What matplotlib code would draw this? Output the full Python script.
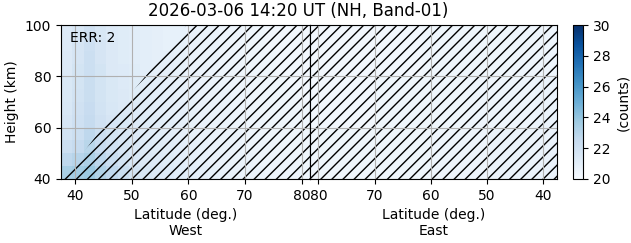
import matplotlib
matplotlib.use("Agg")
import matplotlib.pyplot as plt
import numpy as np

title = "2026-03-06 14:20 UT (NH, Band-01)"
err_text = "ERR: 2"

# grid edges (deg. latitude / km height)
lat_edges = np.arange(37.5, 81.6, 2.0)
height_edges = np.arange(40, 101, 5)

# West panel counts, rows bottom (40-45 km) to top (95-100 km)
west_counts = [
    [23.4, 23.6, 23.8, 23.2, 22.7, 22.3, 21.9, 21.6, 21.4, 21.3, 21.1, 21.0, 20.9, 20.8, 20.7, 20.7, 20.6, 20.6, 20.5, 20.5, 20.5, 20.5],
    [22.7, 23.0, 23.3, 22.8, 22.3, 21.9, 21.6, 21.4, 21.3, 21.2, 21.0, 20.9, 20.8, 20.7, 20.7, 20.6, 20.6, 20.5, 20.5, 20.5, 20.5, 20.4],
    [22.2, 22.5, 22.9, 22.4, 22.0, 21.7, 21.5, 21.3, 21.2, 21.1, 21.0, 20.9, 20.8, 20.7, 20.6, 20.6, 20.5, 20.5, 20.5, 20.4, 20.4, 20.4],
    [21.9, 22.2, 22.7, 22.2, 21.8, 21.6, 21.4, 21.2, 21.1, 21.0, 20.9, 20.8, 20.7, 20.7, 20.6, 20.6, 20.5, 20.5, 20.4, 20.4, 20.4, 20.4],
    [21.7, 22.1, 22.5, 22.0, 21.7, 21.5, 21.3, 21.2, 21.1, 21.0, 20.9, 20.8, 20.7, 20.6, 20.6, 20.5, 20.5, 20.5, 20.4, 20.4, 20.4, 20.4],
    [21.6, 22.0, 22.4, 21.9, 21.6, 21.4, 21.3, 21.1, 21.0, 20.9, 20.9, 20.8, 20.7, 20.6, 20.6, 20.5, 20.5, 20.4, 20.4, 20.4, 20.4, 20.4],
    [21.5, 21.9, 22.3, 21.8, 21.5, 21.4, 21.2, 21.1, 21.0, 20.9, 20.8, 20.8, 20.7, 20.6, 20.6, 20.5, 20.5, 20.4, 20.4, 20.4, 20.4, 20.3],
    [21.5, 21.8, 22.3, 21.8, 21.5, 21.3, 21.2, 21.1, 21.0, 20.9, 20.8, 20.7, 20.7, 20.6, 20.5, 20.5, 20.5, 20.4, 20.4, 20.4, 20.3, 20.3],
    [21.4, 21.8, 22.2, 21.8, 21.4, 21.3, 21.2, 21.0, 20.9, 20.9, 20.8, 20.7, 20.7, 20.6, 20.5, 20.5, 20.4, 20.4, 20.4, 20.3, 20.3, 20.3],
    [21.4, 21.7, 22.2, 21.7, 21.4, 21.2, 21.1, 21.0, 20.9, 20.9, 20.8, 20.7, 20.6, 20.6, 20.5, 20.5, 20.4, 20.4, 20.4, 20.3, 20.3, 20.3],
    [21.3, 21.7, 22.1, 21.7, 21.4, 21.2, 21.1, 21.0, 20.9, 20.8, 20.8, 20.7, 20.6, 20.6, 20.5, 20.5, 20.4, 20.4, 20.3, 20.3, 20.3, 20.3],
    [21.3, 21.6, 22.0, 21.6, 21.3, 21.2, 21.1, 21.0, 20.9, 20.8, 20.8, 20.7, 20.6, 20.6, 20.5, 20.5, 20.4, 20.4, 20.3, 20.3, 20.3, 20.3],
]

# East panel counts (coarser), rows bottom to top, columns 37.5 -> 81.5
east_lat_edges = np.arange(37.5, 81.6, 4.0)
east_height_edges = [40, 60, 80, 100]
east_counts = [
    [20.7, 20.6, 20.6, 20.5, 20.5, 20.5, 20.4, 20.4, 20.4, 20.4, 20.4],
    [20.6, 20.5, 20.5, 20.5, 20.4, 20.4, 20.4, 20.4, 20.3, 20.3, 20.3],
    [20.5, 20.5, 20.4, 20.4, 20.4, 20.4, 20.3, 20.3, 20.3, 20.3, 20.3],
]

# edge of the valid data region in the West panel (hatched beyond)
edge_heights = [40, 60, 80, 100]
edge_lats = [37.9, 44.8, 52.4, 59.8]

lat_min, lat_max = 37.5, 81.5
vmin, vmax = 20, 30

fig = plt.figure(figsize=(6.31, 2.43), dpi=100)
ax_w = fig.add_axes([0.0967, 0.2634, 0.3946, 0.6337])
ax_e = fig.add_axes([0.4913, 0.2634, 0.3914, 0.6337], sharey=ax_w)
cax = fig.add_axes([0.9073, 0.2634, 0.0174, 0.6337])

mesh = ax_w.pcolormesh(lat_edges, height_edges, np.array(west_counts),
                       cmap="Blues", vmin=vmin, vmax=vmax, shading="flat")
ax_e.pcolormesh(east_lat_edges, east_height_edges, np.array(east_counts),
                cmap="Blues", vmin=vmin, vmax=vmax, shading="flat")

# hatch where there is no valid data
ax_w.fill_betweenx(edge_heights, edge_lats, lat_max, facecolor="none",
                   edgecolor="k", hatch="///", linewidth=0)
ax_e.fill_betweenx([40, 100], lat_min, lat_max, facecolor="none",
                   edgecolor="k", hatch="///", linewidth=0)

ax_w.set_xlim(lat_min, lat_max)
ax_e.set_xlim(lat_max, lat_min)
ax_w.set_ylim(40, 100)
ax_w.set_yticks([40, 60, 80, 100])
for ax in (ax_w, ax_e):
    ax.set_xticks([40, 50, 60, 70, 80])
    ax.grid(True)
ax_e.tick_params(axis="y", labelleft=False, left=False)

ax_w.set_ylabel("Height (km)")
ax_w.set_xlabel("Latitude (deg.)\nWest")
ax_e.set_xlabel("Latitude (deg.)\nEast")
ax_w.text(0.036, 0.915, err_text, transform=ax_w.transAxes, va="center", ha="left")

cb = fig.colorbar(mesh, cax=cax)
cb.set_ticks([20, 22, 24, 26, 28, 30])
cb.set_label("(counts)")

fig.text(298 / 631, 0.955, title, ha="center", va="center", fontsize=12)

fig.savefig("out.png", dpi=100)
